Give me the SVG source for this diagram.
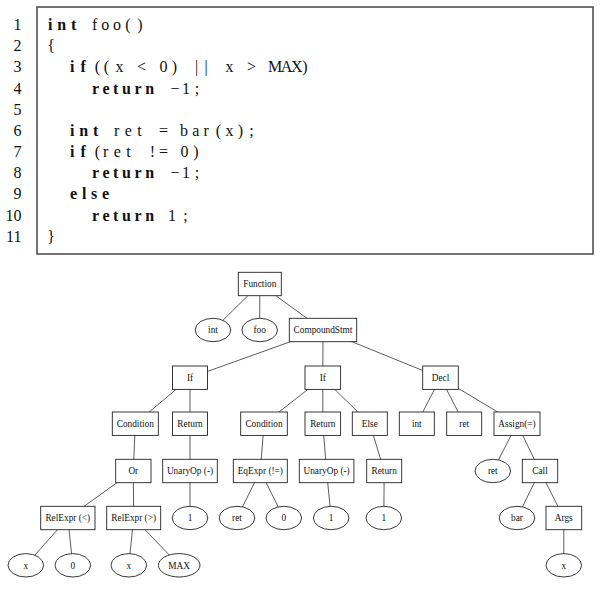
<svg xmlns="http://www.w3.org/2000/svg" width="600" height="592" viewBox="0 0 600 592">
<style>
text{font-family:"Liberation Serif","Times New Roman",serif;fill:#111}
.ln{font-size:16px;text-anchor:end}
.c{font-size:16px}
.k{font-size:16px;font-weight:bold}
.m{font-size:16px;text-anchor:middle}
.n rect,.n ellipse{fill:#fff;stroke:#222;stroke-width:0.9}
.n text{font-size:9.3px;text-anchor:middle}
#edges line{stroke:#333;stroke-width:0.8}
</style>
<rect width="600" height="592" fill="#fff"/>
<g id="code">
<rect x="37" y="7" width="556" height="247" fill="none" stroke="#444" stroke-width="1.5"/>
<text class="ln" x="21.5" y="30">1</text>
<text class="ln" x="21.5" y="51.2">2</text>
<text class="ln" x="21.5" y="72.3">3</text>
<text class="ln" x="21.5" y="93.5">4</text>
<text class="ln" x="21.5" y="114.7">5</text>
<text class="ln" x="21.5" y="135.9">6</text>
<text class="ln" x="21.5" y="157">7</text>
<text class="ln" x="21.5" y="178.2">8</text>
<text class="ln" x="21.5" y="199.4">9</text>
<text class="ln" x="21.5" y="220.5">10</text>
<text class="ln" x="21.5" y="241.7">11</text>
<!-- line 1 -->
<text class="k" x="48" y="30" letter-spacing="4.78">int</text>
<text class="c" x="92" y="30" letter-spacing="3.89">foo</text>
<text class="m" x="128 140" y="30">()</text>
<!-- line 2 -->
<text class="m" x="51" y="51.2">{</text>
<!-- line 3 -->
<text class="k" x="70" y="72.3" letter-spacing="6.11">if</text>
<text class="m" x="97.5 106.5 119.5" y="72.3">((x</text>
<text class="m" x="141.5" y="72.3">&lt;</text>
<text class="m" x="163.5 174.5" y="72.3">0)</text>
<text class="m" x="196.5 206" y="72.3">||</text>
<text class="m" x="229.5" y="72.3">x</text>
<text class="m" x="251.5" y="72.3">&gt;</text>
<text class="c" x="268" y="72.3" letter-spacing="-1.44">MAX</text>
<text class="m" x="305" y="72.3">)</text>
<!-- line 4 -->
<text class="k" x="92" y="93.5" letter-spacing="3.6">return</text>
<text class="m" x="175 186 197" y="93.5">−1;</text>
<!-- line 6 -->
<text class="k" x="70" y="135.9" letter-spacing="4.78">int</text>
<text class="c" x="114" y="135.9" letter-spacing="5.37">ret</text>
<text class="m" x="163.5" y="135.9">=</text>
<text class="c" x="180" y="135.9" letter-spacing="4.19">bar</text>
<text class="m" x="218.5 229.5 240.5 251.5" y="135.9">(x);</text>
<!-- line 7 -->
<text class="k" x="70" y="157" letter-spacing="6.11">if</text>
<text class="m" x="97.5" y="157">(</text>
<text class="c" x="103" y="157" letter-spacing="5.37">ret</text>
<text class="m" x="152.5 163.5" y="157">!=</text>
<text class="m" x="184.5 196" y="157">0)</text>
<!-- line 8 -->
<text class="k" x="92" y="178.2" letter-spacing="3.6">return</text>
<text class="m" x="175 186 197" y="178.2">−1;</text>
<!-- line 9 -->
<text class="k" x="70" y="199.4" letter-spacing="4.78">else</text>
<!-- line 10 -->
<text class="k" x="92" y="220.5" letter-spacing="3.6">return</text>
<text class="m" x="172 185.5" y="220.5">1;</text>
<!-- line 11 -->
<text class="m" x="51" y="241.7">}</text>
</g>
<g id="edges">
<line x1="259.8" y1="284" x2="213" y2="330"/>
<line x1="259.8" y1="284" x2="259.7" y2="330"/>
<line x1="259.8" y1="284" x2="323" y2="330"/>
<line x1="323" y1="330" x2="190" y2="377.7"/>
<line x1="323" y1="330" x2="322.8" y2="377.7"/>
<line x1="323" y1="330" x2="440.5" y2="377.7"/>
<line x1="190" y1="377.7" x2="135.3" y2="423.7"/>
<line x1="190" y1="377.7" x2="190" y2="423.7"/>
<line x1="322.8" y1="377.7" x2="264" y2="423.7"/>
<line x1="322.8" y1="377.7" x2="322.8" y2="423.7"/>
<line x1="322.8" y1="377.7" x2="369.8" y2="423.7"/>
<line x1="440.5" y1="377.7" x2="416.8" y2="423.7"/>
<line x1="440.5" y1="377.7" x2="464.2" y2="423.7"/>
<line x1="440.5" y1="377.7" x2="517" y2="423.7"/>
<line x1="135.3" y1="423.7" x2="133.3" y2="471"/>
<line x1="190" y1="423.7" x2="190" y2="471"/>
<line x1="264" y1="423.7" x2="260.3" y2="471"/>
<line x1="322.8" y1="423.7" x2="326.6" y2="471"/>
<line x1="369.8" y1="423.7" x2="384.2" y2="471"/>
<line x1="517" y1="423.7" x2="492.8" y2="471"/>
<line x1="517" y1="423.7" x2="540" y2="471"/>
<line x1="133.3" y1="471" x2="67.8" y2="518"/>
<line x1="133.3" y1="471" x2="133.7" y2="518"/>
<line x1="190" y1="471" x2="190" y2="518"/>
<line x1="260.3" y1="471" x2="237" y2="518"/>
<line x1="260.3" y1="471" x2="283.8" y2="518"/>
<line x1="326.6" y1="471" x2="331.2" y2="518"/>
<line x1="384.2" y1="471" x2="383.8" y2="518"/>
<line x1="540" y1="471" x2="517" y2="518"/>
<line x1="540" y1="471" x2="563.8" y2="518"/>
<line x1="67.8" y1="518" x2="25.8" y2="565.3"/>
<line x1="67.8" y1="518" x2="72.8" y2="565.3"/>
<line x1="133.7" y1="518" x2="128.8" y2="565.3"/>
<line x1="133.7" y1="518" x2="179.2" y2="565.3"/>
<line x1="563.8" y1="518" x2="563.8" y2="565.3"/>
</g>
<g id="n_function" class="n"><rect x="238.3" y="272.3" width="43" height="23.4"/><text x="259.8" y="287.2">Function</text></g>
<g id="n_int_type" class="n"><ellipse cx="213" cy="330" rx="17.8" ry="11.7"/><text x="213" y="333.2">int</text></g>
<g id="n_foo" class="n"><ellipse cx="259.7" cy="330" rx="17.8" ry="11.7"/><text x="259.7" y="333.2">foo</text></g>
<g id="n_compound" class="n"><rect x="289.3" y="318.3" width="67.4" height="23.4"/><text x="323" y="333.2">CompoundStmt</text></g>
<g id="n_if1" class="n"><rect x="172.5" y="366" width="35" height="23.4"/><text x="190" y="380.9">If</text></g>
<g id="n_if2" class="n"><rect x="305" y="366" width="35.6" height="23.4"/><text x="322.8" y="380.9">If</text></g>
<g id="n_decl" class="n"><rect x="422.7" y="366" width="35.6" height="23.4"/><text x="440.5" y="380.9">Decl</text></g>
<g id="n_cond1" class="n"><rect x="112.3" y="412" width="46" height="23.4"/><text x="135.3" y="426.9">Condition</text></g>
<g id="n_ret1" class="n"><rect x="172.5" y="412" width="35" height="23.4"/><text x="190" y="426.9">Return</text></g>
<g id="n_cond2" class="n"><rect x="240.7" y="412" width="46.6" height="23.4"/><text x="264" y="426.9">Condition</text></g>
<g id="n_ret2" class="n"><rect x="305" y="412" width="35.6" height="23.4"/><text x="322.8" y="426.9">Return</text></g>
<g id="n_else" class="n"><rect x="352.3" y="412" width="35" height="23.4"/><text x="369.8" y="426.9">Else</text></g>
<g id="n_int_b" class="n"><rect x="399.3" y="412" width="35" height="23.4"/><text x="416.8" y="426.9">int</text></g>
<g id="n_ret_b" class="n"><rect x="446.7" y="412" width="35" height="23.4"/><text x="464.2" y="426.9">ret</text></g>
<g id="n_assign" class="n"><rect x="494" y="412" width="46" height="23.4"/><text x="517" y="426.9">Assign(=)</text></g>
<g id="n_or" class="n"><rect x="115.7" y="459.3" width="35.3" height="23.4"/><text x="133.3" y="474.2">Or</text></g>
<g id="n_unary1" class="n"><rect x="162.7" y="459.3" width="54.6" height="23.4"/><text x="190" y="474.2">UnaryOp (-)</text></g>
<g id="n_eqexpr" class="n"><rect x="233.3" y="459.3" width="54" height="23.4"/><text x="260.3" y="474.2">EqExpr (!=)</text></g>
<g id="n_unary2" class="n"><rect x="299.3" y="459.3" width="54.6" height="23.4"/><text x="326.6" y="474.2">UnaryOp (-)</text></g>
<g id="n_ret3" class="n"><rect x="366.7" y="459.3" width="35" height="23.4"/><text x="384.2" y="474.2">Return</text></g>
<g id="n_ret_e" class="n"><ellipse cx="492.8" cy="471" rx="17.8" ry="11.7"/><text x="492.8" y="474.2">ret</text></g>
<g id="n_call" class="n"><rect x="522.3" y="459.3" width="35.4" height="23.4"/><text x="540" y="474.2">Call</text></g>
<g id="n_rellt" class="n"><rect x="40.7" y="506.3" width="54.3" height="23.4"/><text x="67.8" y="521.2">RelExpr (&lt;)</text></g>
<g id="n_relgt" class="n"><rect x="106.7" y="506.3" width="54" height="23.4"/><text x="133.7" y="521.2">RelExpr (&gt;)</text></g>
<g id="n_one1" class="n"><ellipse cx="190" cy="518" rx="17.8" ry="11.7"/><text x="190" y="521.2">1</text></g>
<g id="n_ret_e2" class="n"><ellipse cx="237" cy="518" rx="17.8" ry="11.7"/><text x="237" y="521.2">ret</text></g>
<g id="n_zero1" class="n"><ellipse cx="283.8" cy="518" rx="17.8" ry="11.7"/><text x="283.8" y="521.2">0</text></g>
<g id="n_one2" class="n"><ellipse cx="331.2" cy="518" rx="17.8" ry="11.7"/><text x="331.2" y="521.2">1</text></g>
<g id="n_one3" class="n"><ellipse cx="383.8" cy="518" rx="17.8" ry="11.7"/><text x="383.8" y="521.2">1</text></g>
<g id="n_bar" class="n"><ellipse cx="517" cy="518" rx="17.8" ry="11.7"/><text x="517" y="521.2">bar</text></g>
<g id="n_args" class="n"><rect x="546" y="506.3" width="35.7" height="23.4"/><text x="563.8" y="521.2">Args</text></g>
<g id="n_x1" class="n"><ellipse cx="25.8" cy="565.3" rx="17.8" ry="11.7"/><text x="25.8" y="568.5">x</text></g>
<g id="n_zero2" class="n"><ellipse cx="72.8" cy="565.3" rx="17.8" ry="11.7"/><text x="72.8" y="568.5">0</text></g>
<g id="n_x2" class="n"><ellipse cx="128.8" cy="565.3" rx="17.8" ry="11.7"/><text x="128.8" y="568.5">x</text></g>
<g id="n_max" class="n"><ellipse cx="179.2" cy="565.3" rx="20.8" ry="11.7"/><text x="179.2" y="568.5">MAX</text></g>
<g id="n_x3" class="n"><ellipse cx="563.8" cy="565.3" rx="17.8" ry="11.7"/><text x="563.8" y="568.5">x</text></g>
</svg>
